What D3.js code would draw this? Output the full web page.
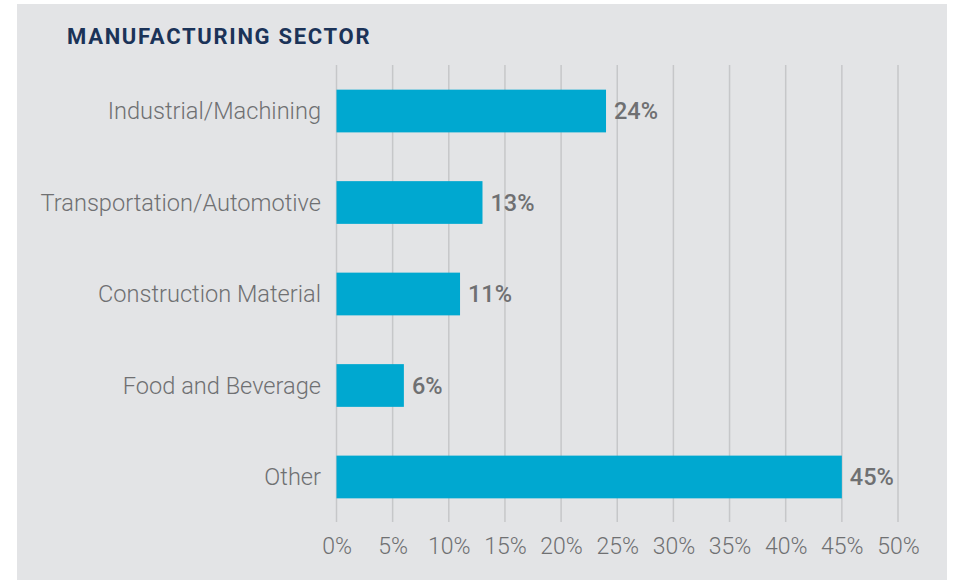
<!DOCTYPE html>
<html><head><meta charset="utf-8">
<script src="https://cdn.jsdelivr.net/npm/d3@7"></script>
<style>html,body{margin:0;padding:0;background:#fff;}svg{display:block;}</style>
</head><body>
<svg id="chart" width="953" height="580"></svg>
<script>
const categories = ["Industrial/Machining","Transportation/Automotive","Construction Material","Food and Beverage","Other"];
const values = [24, 13, 11, 6, 45];
const tickValues = [0,5,10,15,20,25,30,35,40,45,50];
const title = "MANUFACTURING SECTOR";

const svg = d3.select("#chart");
svg.append("rect").attr("x",17).attr("y",4).attr("width",930).attr("height",576).attr("fill","#e3e4e6");

const x = d3.scaleLinear().domain([0,50]).range([336.5,898]);
const y = d3.scaleBand().domain(categories).range([65.25,522.75]).paddingInner(0.533).paddingOuter(0.2667);

const font = "Roboto, 'Noto Sans', sans-serif";
const gray = "#6f7072";

// gridlines
svg.append("g").selectAll("line").data(tickValues).join("line")
  .attr("x1",d=>x(d)).attr("x2",d=>x(d)).attr("y1",65).attr("y2",522)
  .attr("stroke","#c6c7c9").attr("stroke-width",1.5);

// x axis labels
const xAxis = d3.axisBottom(x).tickValues(tickValues).tickFormat(d=>d+"%").tickSize(0).tickPadding(0);
const gx = svg.append("g").attr("transform","translate(0,538)").call(xAxis);
gx.select(".domain").remove();
gx.selectAll("text").attr("font-family",font).attr("font-weight",300).attr("font-size",23).attr("fill",gray).attr("dy","0.71em");

// y axis labels
const yAxis = d3.axisLeft(y).tickSize(0).tickPadding(0);
const gy = svg.append("g").attr("transform","translate(321,0)").call(yAxis);
gy.select(".domain").remove();
gy.selectAll("text").attr("font-family",font).attr("font-weight",300).attr("font-size",23.6).attr("fill",gray).attr("dy","0.35em");

// bars
svg.append("g").selectAll("rect").data(values).join("rect")
  .attr("x",x(0)).attr("y",(d,i)=>y(categories[i]))
  .attr("width",d=>x(d)-x(0)).attr("height",y.bandwidth())
  .attr("fill","#00a8d0");

// value labels
svg.append("g").selectAll("text").data(values).join("text")
  .attr("x",d=>x(d)+8).attr("y",(d,i)=>y(categories[i])+y.bandwidth()/2)
  .attr("dy","0.35em").attr("font-family",font).attr("font-weight",500).attr("font-size",23.5)
  .attr("fill",gray).text(d=>d+"%");

// title
svg.append("text").attr("x",67).attr("y",44).attr("font-family",font).attr("font-weight",700)
  .attr("font-size",22).attr("letter-spacing",1.7).attr("fill","#1b3358").text(title);
</script>
</body></html>
